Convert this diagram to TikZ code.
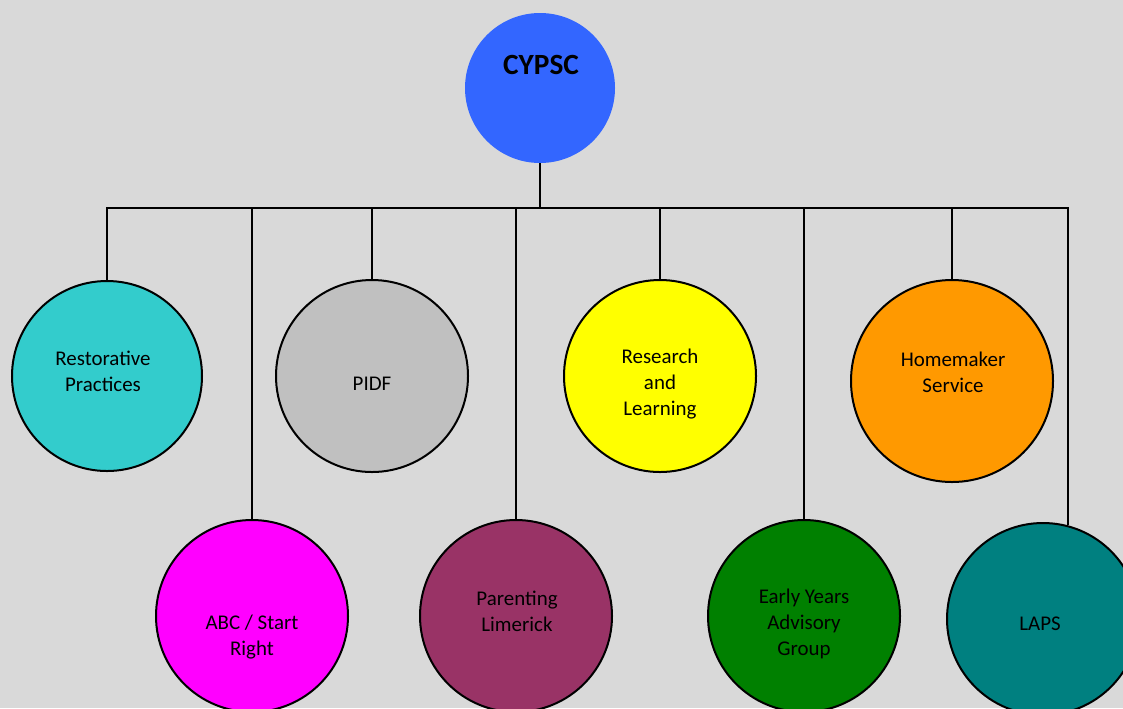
\documentclass[tikz,border=0pt]{standalone}
\usepackage{fontspec}
\setmainfont{Carlito}
\definecolor{bgGrey}{HTML}{D9D9D9}
\definecolor{cypscBlue}{HTML}{3366FF}
\definecolor{rpTeal}{HTML}{33CCCC}
\definecolor{abcPink}{HTML}{FF00FF}
\definecolor{pidfGrey}{HTML}{C0C0C0}
\definecolor{parPlum}{HTML}{993366}
\definecolor{resYellow}{HTML}{FFFF00}
\definecolor{eyGreen}{HTML}{008000}
\definecolor{homeOrange}{HTML}{FF9900}
\definecolor{lapsTeal}{HTML}{008080}
\tikzset{
  unit/.style={circle, draw=black, line width=1.5pt, minimum size=144pt, inner sep=0pt},
  txt/.style={align=center, font=\fontsize{15.7}{19.5}\selectfont, inner sep=0pt},
  link/.style={line width=1.2pt}
}
\begin{document}
\begin{tikzpicture}[x=0.75pt,y=-0.75pt]
  \fill[bgGrey] (0,0) rectangle (1123,708);
  \useasboundingbox (0,0) rectangle (1123,708);
  % committee
  \node[circle, fill=cypscBlue, minimum size=112.5pt, inner sep=0pt] (cypsc) at (540,88) {};
  \node[font=\fontsize{22}{26}\selectfont\bfseries] (cypsc-t) at (541,65) {CYPSC};
  \coordinate (bar) at (540,208);
  % sub-groups, top row
  \node[unit, fill=rpTeal, minimum size=142.5pt] (rp) at (107,376) {};
  \node[unit, fill=pidfGrey] (pidf) at (372,376) {};
  \node[unit, fill=resYellow] (res) at (660,376) {};
  \node[unit, fill=homeOrange, minimum size=151.5pt] (home) at (952,381) {};
  % sub-groups, bottom row
  \node[unit, fill=abcPink] (abc) at (252,616) {};
  \node[unit, fill=parPlum] (par) at (516,616) {};
  \node[unit, fill=eyGreen] (ey) at (804,616) {};
  \node[unit, fill=lapsTeal] (laps) at (1043,619) {};
  % labels
  \node[txt] (rp-t) at (103,371) {Restorative\\Practices};
  \node[txt] (pidf-t) at (372,384) {PIDF};
  \node[txt] (res-t) at (660,384) {Research\\and\\Learning};
  \node[txt] (home-t) at (953,372) {Homemaker\\Service};
  \node[txt] (abc-t) at (252,637) {ABC / Start\\Right};
  \node[txt] (par-t) at (517,611) {Parenting\\Limerick};
  \node[txt] (ey-t) at (804,624) {Early Years\\Advisory\\Group};
  \node[txt] (laps-t) at (1040,624) {LAPS};
  % connectors
  \draw[link] (cypsc) -- (bar);
  \draw[link] (bar) -| (rp);
  \draw[link] (bar) -| (abc);
  \draw[link] (bar) -| (pidf);
  \draw[link] (bar) -| (par);
  \draw[link] (bar) -| (res);
  \draw[link] (bar) -| (ey);
  \draw[link] (bar) -| (home);
  \draw[link] (bar) -| (laps.75);
\end{tikzpicture}
\end{document}
